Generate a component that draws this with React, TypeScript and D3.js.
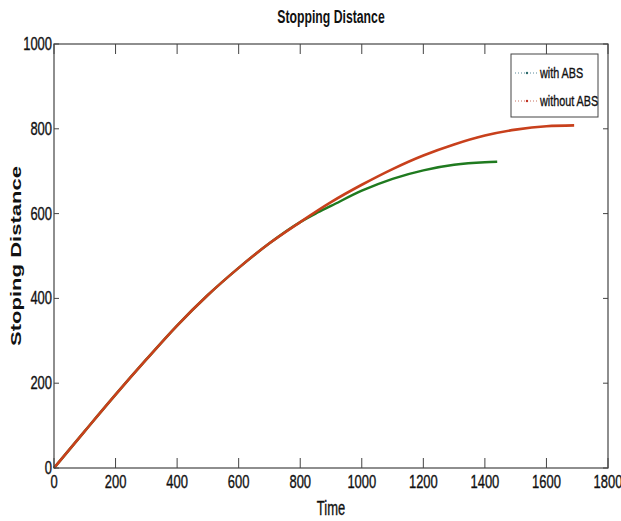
import React from "react";
import * as d3 from "d3";

const timeWith = [0, 100, 200, 300, 400, 500, 600, 700, 800, 850, 900, 1000, 1100, 1200, 1300, 1400, 1440];
const distWith = [0, 87, 173, 256, 336, 408, 472, 530, 580, 600, 618, 654, 682, 702, 715, 721, 722];
const timeWithout = [0, 100, 200, 300, 400, 500, 600, 700, 800, 900, 1000, 1100, 1200, 1300, 1400, 1500, 1600, 1690];
const distWithout = [0, 87, 173, 256, 336, 408, 472, 530, 580, 627, 668, 705, 737, 763, 784, 798, 806, 808];
const xTicks = [0, 200, 400, 600, 800, 1000, 1200, 1400, 1600, 1800];
const yTicks = [0, 200, 400, 600, 800, 1000];
const seriesNames = ["with ABS", "without ABS"];
const seriesColors = ["#1f7a1f", "#c8401c"];

const FONT = "'Liberation Sans', Arial, sans-serif";

function NText(props: { x: number; y: number; anchor?: string; size: number; bold?: boolean; sx?: number; sy?: number; children: React.ReactNode }) {
  const sx = props.sx ?? 0.72;
  const sy = props.sy ?? 1;
  return (
    <text
      transform={`translate(${props.x},${props.y}) scale(${sx},${sy})`}
      textAnchor={props.anchor || "start"}
      fontFamily={FONT}
      fontWeight={props.bold ? "bold" : "normal"}
      fontSize={props.size}
      fill="#111"
      stroke={props.bold ? "none" : "#111"}
      strokeWidth={props.bold ? 0 : 0.35}
    >
      {props.children}
    </text>
  );
}

export default function App() {
  const W = 621, H = 521;
  const L = 54, R = 608, T = 44, B = 468;
  const x = d3.scaleLinear().domain([0, 1800]).range([L, R]);
  const y = d3.scaleLinear().domain([0, 1000]).range([B, T]);
  const line = d3.line<[number, number]>().x(d => x(d[0])).y(d => y(d[1])).curve(d3.curveMonotoneX);
  const withPts: [number, number][] = timeWith.map((t, i) => [t, distWith[i]]);
  const withoutPts: [number, number][] = timeWithout.map((t, i) => [t, distWithout[i]]);
  const axisColor = "#444";
  return (
    <svg width={W} height={H} style={{ position: "absolute", left: 0, top: 0, background: "#fff" }}>
      <rect x={0} y={0} width={W} height={H} fill="#fff" />
      <NText x={(L + R) / 2} y={23} anchor="middle" size={17} bold sy={1.08}>Stopping Distance</NText>
      {/* curves */}
      <path d={line(withPts) || ""} fill="none" stroke={seriesColors[0]} strokeWidth={2.5} />
      <path d={line(withoutPts) || ""} fill="none" stroke={seriesColors[1]} strokeWidth={2.6} />
      {/* box */}
      <rect x={L} y={T} width={R - L} height={B - T} fill="none" stroke={axisColor} strokeWidth={1.2} />
      {xTicks.map(t => (
        <g key={"x" + t}>
          <line x1={x(t)} x2={x(t)} y1={B} y2={B - 10} stroke={axisColor} strokeWidth={1} />
          <line x1={x(t)} x2={x(t)} y1={T} y2={T + 10} stroke={axisColor} strokeWidth={1} />
          <NText x={x(t)} y={488} anchor="middle" size={18} sy={1.05}>{t}</NText>
        </g>
      ))}
      {yTicks.map(t => (
        <g key={"y" + t}>
          <line x1={L} x2={L + 5} y1={y(t)} y2={y(t)} stroke={axisColor} strokeWidth={1} />
          <line x1={R} x2={R - 5} y1={y(t)} y2={y(t)} stroke={axisColor} strokeWidth={1} />
          <NText x={L - 2} y={y(t) + 6} anchor="end" size={18} sy={1.05}>{t}</NText>
        </g>
      ))}
      <NText x={(L + R) / 2} y={515} anchor="middle" size={18} sy={1.1}>Time</NText>
      <text transform={`translate(21, 256) rotate(-90)`} textAnchor="middle" fontFamily={FONT} fontWeight="bold" fontSize={15} textLength={180} lengthAdjust="spacingAndGlyphs" fill="#111">Stoping Distance</text>
      {/* legend */}
      <rect x={511} y={54} width={87} height={63} fill="#fff" stroke={axisColor} strokeWidth={1} />
      {seriesNames.map((n, i) => {
        const ly = 73 + i * 28;
        return (
          <g key={n}>
            <line x1={515} x2={538} y1={ly} y2={ly} stroke={i === 0 ? "#5a8a9a" : "#c87060"} strokeWidth={1} strokeDasharray="1,2" />
            <circle cx={527} cy={ly} r={1.2} fill={i === 0 ? "#2a6a6a" : "#c03020"} />
            <NText x={540} y={ly + 5} size={15}>{n}</NText>
          </g>
        );
      })}
    </svg>
  );
}
